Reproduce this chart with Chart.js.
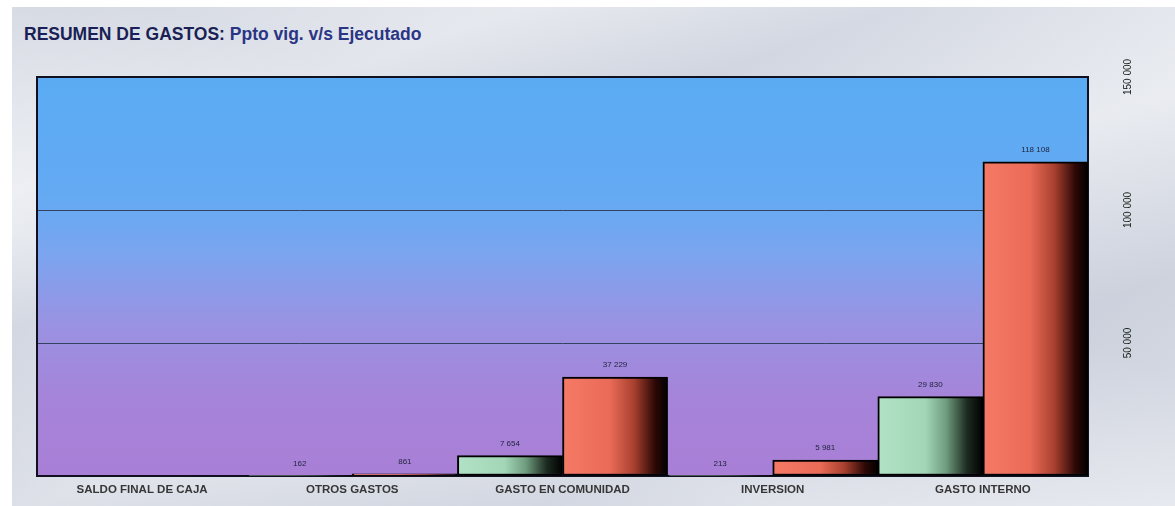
<!DOCTYPE html>
<html>
<head>
<meta charset="utf-8">
<script src="https://cdn.jsdelivr.net/npm/chart.js@4.4.1/dist/chart.umd.min.js"></script>
<style>
  html, body { margin:0; padding:0; background:#ffffff; }
  #wrap { position:absolute; left:0; top:0; width:1175px; height:506px; overflow:hidden; background:#fff; }
  #marble { position:absolute; left:12px; top:7px; width:1163px; height:499px;
    background:
      linear-gradient(160deg, rgba(255,255,255,0.0) 0%, rgba(255,255,255,0.35) 20%, rgba(180,188,205,0.25) 35%, rgba(255,255,255,0.3) 55%, rgba(175,182,200,0.25) 75%, rgba(255,255,255,0.3) 100%),
      linear-gradient(20deg, rgba(160,168,188,0.25) 0%, rgba(255,255,255,0.25) 30%, rgba(170,178,196,0.2) 60%, rgba(255,255,255,0.25) 100%),
      #dde1e9; }
  #title { position:absolute; left:24px; top:24px; font-family:"Liberation Sans", Arial, sans-serif; font-weight:bold; font-size:17.5px; color:#2b3585; white-space:nowrap; }
  #title .a { color:#1a1f55; }
  canvas { position:absolute; left:0; top:0; }
</style>
</head>
<body>
<div id="wrap">
  <div id="marble"></div>
  <div id="title"><span class="a">RESUMEN DE GASTOS:</span> Ppto vig. v/s Ejecutado</div>
  <canvas id="c" width="1175" height="506"></canvas>
</div>
<script>
const categories = ["SALDO FINAL DE CAJA", "OTROS GASTOS", "GASTO EN COMUNIDAD", "INVERSION", "GASTO INTERNO"];
const pptoVigente = [0, 162, 7654, 213, 29830];
const ejecutado = [0, 861, 37229, 5981, 118108];
const yTicks = [50000, 100000, 150000];
const yTickLabels = ["50 000", "100 000", "150 000"];

function fmt(v) { return String(v).replace(/\B(?=(\d{3})+(?!\d))/g, " "); }

function barGradient(ctx, dsIndex, stops) {
  const chart = ctx.chart;
  const area = chart.chartArea;
  if (!area) return stops[0][1];
  const xs = chart.scales.x;
  const i = ctx.dataIndex;
  const catW = area.width / categories.length;
  const c = xs.getPixelForValue(i);
  const left = dsIndex === 0 ? c - catW / 2 : c;
  const right = left + catW / 2;
  const g = chart.ctx.createLinearGradient(left, 0, right, 0);
  stops.forEach(s => g.addColorStop(s[0], s[1]));
  return g;
}
const greenStops = [[0, "#b2e2c6"], [0.45, "#a2d6b6"], [0.65, "#6f9c7e"], [0.85, "#1c2a20"], [1, "#000000"]];
const redStops = [[0, "#f57a66"], [0.45, "#ea6b57"], [0.68, "#a8402f"], [0.88, "#2c0805"], [1, "#000000"]];

const bgPlugin = {
  id: "bg",
  beforeDraw(chart) {
    const a = chart.chartArea, ctx = chart.ctx;
    const g = ctx.createLinearGradient(0, a.top, 0, a.bottom);
    g.addColorStop(0, "#5aabf3");
    g.addColorStop(0.3, "#64aaf3");
    g.addColorStop(0.45, "#7ca4ef");
    g.addColorStop(0.62, "#9a92e2");
    g.addColorStop(0.8, "#a584d9");
    g.addColorStop(1, "#a97fd6");
    ctx.save();
    ctx.fillStyle = g;
    ctx.fillRect(a.left, a.top, a.right - a.left, a.bottom - a.top);
    ctx.restore();
  },
  beforeDatasetsDraw(chart) {
    const a = chart.chartArea, ctx = chart.ctx;
    ctx.save();
    ctx.strokeStyle = "#101020";
    ctx.lineWidth = 2;
    ctx.strokeRect(a.left, a.top, a.right - a.left, a.bottom - a.top);
    ctx.restore();
  },
  afterDatasetsDraw(chart) {
    const ctx = chart.ctx;
    ctx.save();
    ctx.font = "8px 'Liberation Sans', Arial, sans-serif";
    ctx.textAlign = "center";
    ctx.textBaseline = "middle";
    chart.data.datasets.forEach((ds, di) => {
      const meta = chart.getDatasetMeta(di);
      meta.data.forEach((el, i) => {
        const v = ds.data[i];
        if (!v) return;
        ctx.fillStyle = "#22243f";
        ctx.fillText(fmt(v), el.x, el.y - 12);
      });
    });
    // rotated y labels on the right
    const ys = chart.scales.y;
    ctx.font = "10px 'Liberation Sans', Arial, sans-serif";
    ctx.fillStyle = "#15201a";
    yTicks.forEach((t, k) => {
      const y = ys.getPixelForValue(t);
      ctx.save();
      ctx.translate(1128, y);
      ctx.rotate(-Math.PI / 2);
      ctx.fillText(yTickLabels[k], 0, 0);
      ctx.restore();
    });
    ctx.restore();
  }
};

new Chart(document.getElementById("c"), {
  type: "bar",
  data: {
    labels: categories,
    datasets: [
      { label: "Ppto vig.", data: pptoVigente, backgroundColor: (ctx) => barGradient(ctx, 0, greenStops), borderColor: "#000", borderWidth: 2, borderSkipped: false },
      { label: "Ejecutado", data: ejecutado, backgroundColor: (ctx) => barGradient(ctx, 1, redStops), borderColor: "#000", borderWidth: 2, borderSkipped: false }
    ]
  },
  options: {
    responsive: false,
    animation: false,
    devicePixelRatio: 1,
    layout: { padding: { left: 37, top: 77, right: 0, bottom: 0 } },
    datasets: { bar: { categoryPercentage: 1.0, barPercentage: 1.0 } },
    plugins: { legend: { display: false }, tooltip: { enabled: false }, title: { display: false } },
    scales: {
      x: {
        grid: { display: false, drawTicks: false },
        border: { display: false },
        ticks: { color: "#363636", font: { family: "'Liberation Sans', Arial, sans-serif", size: 11.5, weight: "bold" }, padding: 7, maxRotation: 0, autoSkip: false },
        afterFit(s) { s.height = 30; }
      },
      y: {
        position: "right",
        min: 0, max: 150000,
        afterBuildTicks(s) { s.ticks = [0].concat(yTicks).map(v => ({ value: v })); },
        grid: { color: "#34425f", lineWidth: 1, drawTicks: false },
        border: { display: false },
        ticks: { display: false },
        afterFit(s) { s.width = 87; }
      }
    }
  },
  plugins: [bgPlugin]
});
</script>
</body>
</html>
